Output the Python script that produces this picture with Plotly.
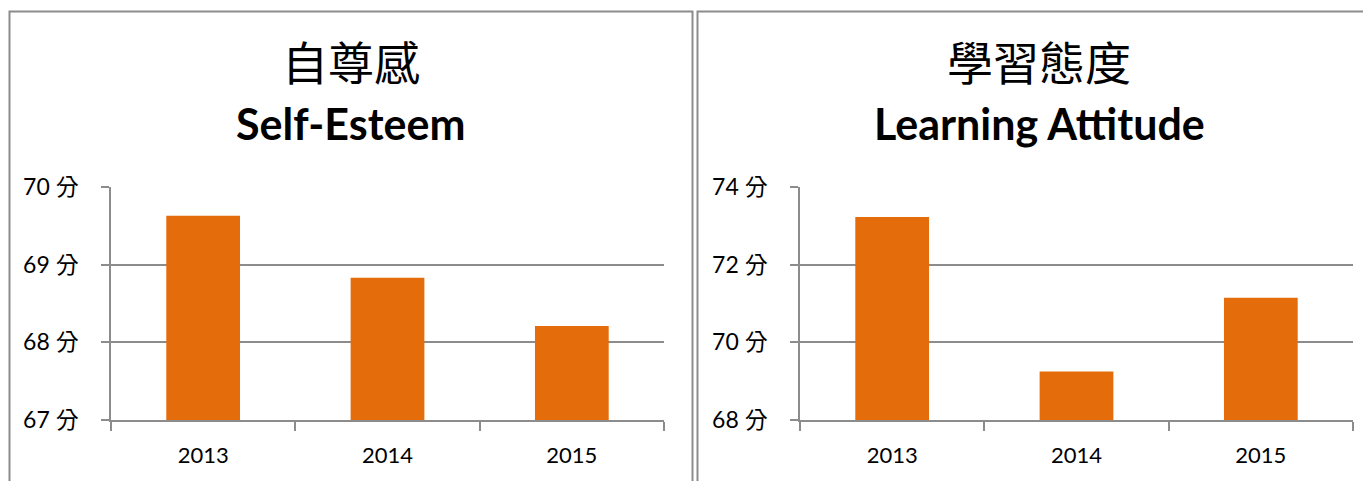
import plotly.graph_objects as go

W, H = 1371, 481
OX, OY = 8, 8  # page body margin offset

years = ["2013", "2014", "2015"]
self_esteem = [69.63, 68.83, 68.21]
learning_attitude = [73.23, 69.25, 71.15]

title_left_zh = "自尊感"
title_left_en = "Self-Esteem"
title_right_zh = "學習態度"
title_right_en = "Learning Attitude"

BAR = "#E46C0A"
GRID = "#8C8C8C"
LATIN = "Lato, 'Noto Sans CJK TC', sans-serif"
CJK = "'Noto Sans CJK TC', sans-serif"


def px(x):
    return (x - OX) / W


def py(y):
    return 1 - (y - OY) / H


fig = go.Figure()
fig.add_trace(go.Bar(x=years, y=self_esteem, marker=dict(color=BAR, line=dict(width=0)),
                     xaxis="x", yaxis="y", hoverinfo="x+y"))
fig.add_trace(go.Bar(x=years, y=learning_attitude, marker=dict(color=BAR, line=dict(width=0)),
                     xaxis="x2", yaxis="y2", hoverinfo="x+y"))

ydom = [py(420), py(187)]

xcommon = dict(type="category", showline=True, linecolor=GRID, linewidth=1.5, ticks="outside",
               tickson="boundaries", ticklen=9, tickcolor=GRID, tickwidth=1.5, showgrid=False,
               automargin=False, tickfont=dict(family=LATIN, size=22, color="#000"),
               ticklabelstandoff=15)
ycommon = dict(showline=True, linecolor=GRID, linewidth=1.5, ticks="outside", ticklen=8,
               tickcolor=GRID, tickwidth=1.5, showgrid=True, gridcolor=GRID, gridwidth=1.5,
               zeroline=False, ticksuffix=" 分", automargin=False,
               tickfont=dict(family=LATIN, size=23, color="#000"), ticklabelstandoff=18)

fig.update_layout(
    template="none",
    width=W, height=H,
    margin=dict(l=0, r=0, t=0, b=0, pad=0, autoexpand=False),
    paper_bgcolor="white", plot_bgcolor="white",
    showlegend=False, bargap=0.6,
    xaxis=dict(domain=[px(111), px(664)], anchor="y", **xcommon),
    yaxis=dict(domain=ydom, anchor="x", range=[67, 70], dtick=1, **ycommon),
    xaxis2=dict(domain=[px(800), px(1353)], anchor="y2", **xcommon),
    yaxis2=dict(domain=ydom, anchor="x2", range=[68, 74], dtick=2, **ycommon),
)

# panel borders
for x0, x1 in [(9.5, 692.5), (697.5, 1390)]:
    fig.add_shape(type="rect", xref="paper", yref="paper",
                  x0=px(x0), x1=px(x1), y0=py(11.5), y1=py(520),
                  line=dict(color="#8C8C8C", width=2), fillcolor="rgba(0,0,0,0)", layer="below")

annots = [
    (350.5, 60, title_left_zh, CJK, 46, False),
    (350.5, 123, title_left_en, LATIN, 43, True),
    (1039, 60, title_right_zh, CJK, 46, False),
    (1039, 123, title_right_en, LATIN, 43, True),
]
for x, y, t, fam, sz, bold in annots:
    fig.add_annotation(x=px(x), y=py(y), xref="paper", yref="paper", xanchor="center", yanchor="middle",
                       text=f"<b>{t}</b>" if bold else t, showarrow=False,
                       font=dict(family=fam, size=sz, color="#000"))

fig.write_html("out.html")
